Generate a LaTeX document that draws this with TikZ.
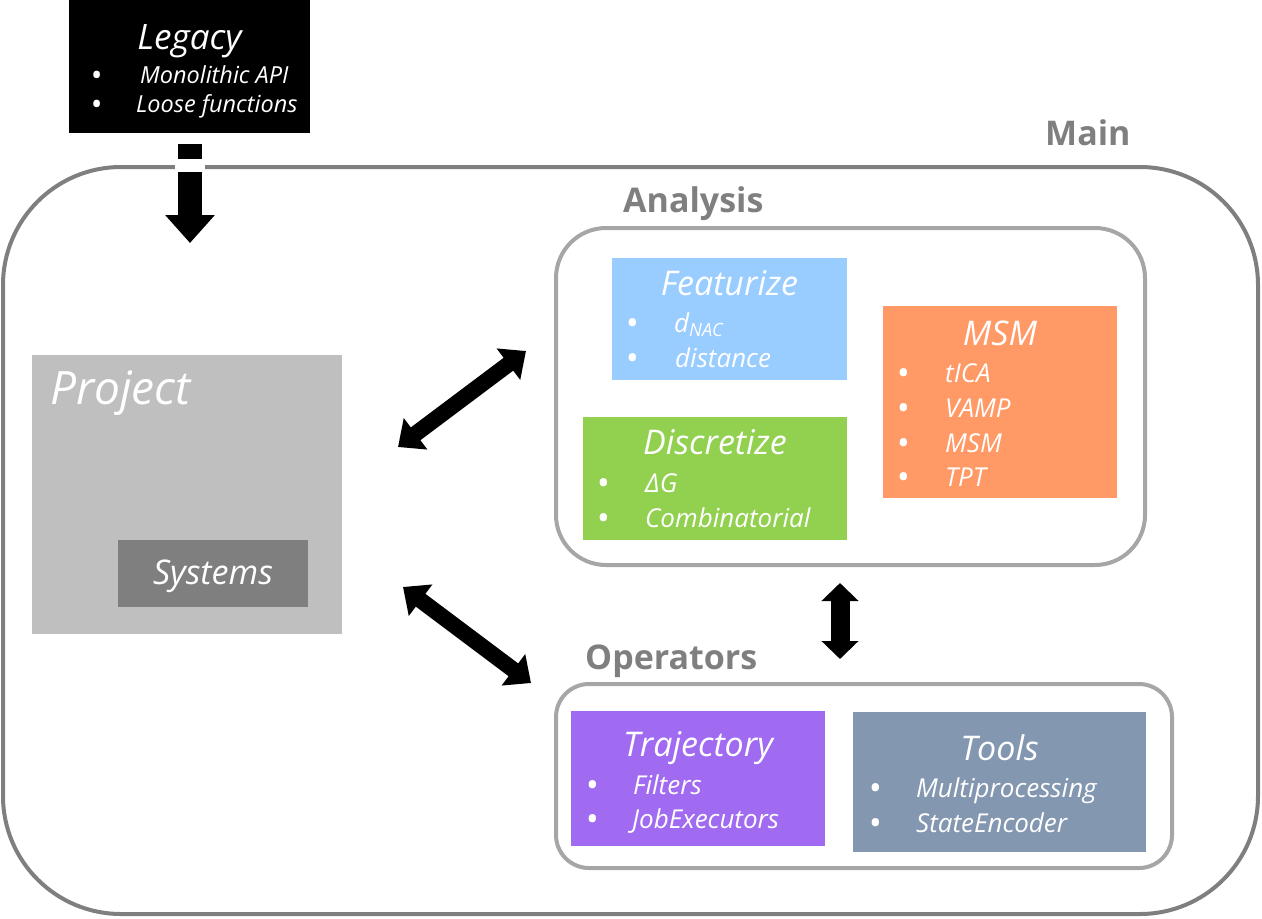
\documentclass[tikz,border=0pt]{standalone}
\usepackage{fontspec}
\setmainfont{Open Sans}
\usetikzlibrary{arrows.meta}
\definecolor{maingray}{HTML}{7F7F7F}
\definecolor{subgray}{HTML}{A6A6A6}
\definecolor{featc}{HTML}{99CCFF}
\definecolor{msmc}{HTML}{FF9966}
\definecolor{discc}{HTML}{92D050}
\definecolor{projc}{HTML}{BFBFBF}
\definecolor{sysc}{HTML}{7F7F7F}
\definecolor{trajc}{HTML}{A06BF0}
\definecolor{toolc}{HTML}{8497B0}
\newcommand{\bigbul}{\raisebox{-0.13em}{\scalebox{1.35}{\textbullet}}}
\newcommand{\myitem}[6][itm]{%
  \node[#1, anchor=base west] (#2b) at (#3,#5) {\bigbul};
  \node[#1, anchor=base west] (#2) at (#4,#5) {#6};}
\begin{document}
\begin{tikzpicture}[x=1pt,y=-1pt,
  box/.style={inner sep=0pt, outer sep=0pt, anchor=north west},
  frame/.style={draw, line width=4pt, inner sep=0pt, outer sep=0pt, fill=none},
  ttl/.style={text=white, font=\itshape\fontsize{34}{38}\selectfont, inner sep=0pt, anchor=base},
  itm/.style={text=white, font=\itshape\fontsize{26}{30}\selectfont, inner sep=0pt},
  litm/.style={text=white, font=\itshape\fontsize{23.5}{27}\selectfont, inner sep=0pt},
  lbl/.style={text=maingray, font=\bfseries\fontsize{34}{38}\selectfont, inner sep=0pt, anchor=base west},
]
\useasboundingbox (0,0) rectangle (1262,919);

% frames
\node[frame, draw=maingray, rounded corners=118pt, minimum width=1255pt, minimum height=747pt] (main) at (630.5,540.5) {};
\node[frame, draw=subgray, rounded corners=50pt, minimum width=589pt, minimum height=337pt] (analysis) at (850.5,396.5) {};
\node[frame, draw=subgray, rounded corners=33pt, minimum width=616pt, minimum height=184pt] (operators) at (864,776) {};

\node[lbl] (mainL) at (1045,145) {Main};
\node[lbl] (analysisL) at (623,212) {Analysis};
\node[lbl] (operatorsL) at (585,669) {Operators};

% Legacy
\node[box, fill=black, minimum width=241pt, minimum height=133pt] (legacy) at (69,0) {};
\node[ttl, font=\itshape\fontsize{35}{38}\selectfont] (legacyT) at (189.5,49) {Legacy};
\myitem[litm]{leg1}{90}{140}{83}{Monolithic API}
\myitem[litm]{leg2}{90}{136}{112}{Loose functions}

% Legacy arrow
\coordinate (legA) at (190,144);
\coordinate (legB) at (190,243);
\draw[line width=24pt, -{Triangle[length=28pt,width=48pt]}] (legA) -- (legB);
\fill[white] (175,159) rectangle (205,172);

% Project
\node[box, fill=projc, minimum width=310pt, minimum height=279pt] (project) at (32,355) {};
\node[text=white, font=\itshape\fontsize{46}{50}\selectfont, inner sep=0pt, anchor=base west] (projectT) at (50,404) {Project};
\node[box, fill=sysc, minimum width=190pt, minimum height=67pt] (systems) at (118,540) {};
\node[text=white, font=\itshape\fontsize{34}{38}\selectfont, inner sep=0pt, anchor=base] (systemsT) at (213,584) {Systems};

% Featurize
\node[box, fill=featc, minimum width=235pt, minimum height=122pt] (feat) at (612,258) {};
\node[ttl] (featT) at (729.5,295) {Featurize};
\myitem{feat1}{625}{674}{332}{d\textsubscript{NAC}}
\myitem{feat2}{625}{675}{367}{distance}

% Discretize
\node[box, fill=discc, minimum width=264pt, minimum height=123pt] (disc) at (583,417) {};
\node[ttl] (discT) at (715,454) {Discretize};
\myitem{disc1}{596}{645}{492}{ΔG}
\myitem{disc2}{596}{645}{527}{Combinatorial}

% MSM
\node[box, fill=msmc, minimum width=234pt, minimum height=192pt] (msm) at (883,306) {};
\node[ttl] (msmT) at (1000,345) {MSM};
\myitem{msm1}{896}{945}{382}{tICA}
\myitem{msm2}{896}{945}{417}{VAMP}
\myitem{msm3}{896}{945}{452}{MSM}
\myitem{msm4}{896}{945}{486}{TPT}

% Trajectory
\node[box, fill=trajc, minimum width=254pt, minimum height=135pt] (traj) at (571,711) {};
\node[ttl] (trajT) at (698,756) {Trajectory};
\myitem{traj1}{585}{633}{794}{Filters}
\myitem{traj2}{585}{632}{828}{JobExecutors}

% Tools
\node[box, fill=toolc, minimum width=293pt, minimum height=140pt] (tools) at (853,712) {};
\node[ttl] (toolsT) at (999.5,760) {Tools};
\myitem{tool1}{868}{916}{797}{Multiprocessing}
\myitem{tool2}{868}{916}{832}{StateEncoder}

% double arrows
\coordinate (a1p) at (398,447);
\coordinate (a1a) at (526,351);
\coordinate (a2p) at (403,587);
\coordinate (a2o) at (531,683);
\coordinate (a3a) at (840,583);
\coordinate (a3o) at (840,659);
\draw[line width=16pt, {Triangle[length=22pt,width=38pt]}-{Triangle[length=22pt,width=38pt]}] (a1p) -- (a1a);
\draw[line width=16pt, {Triangle[length=22pt,width=38pt]}-{Triangle[length=22pt,width=38pt]}] (a2p) -- (a2o);
\draw[line width=19pt, {Triangle[length=18pt,width=36pt]}-{Triangle[length=18pt,width=36pt]}] (a3a) -- (a3o);
\end{tikzpicture}
\end{document}
